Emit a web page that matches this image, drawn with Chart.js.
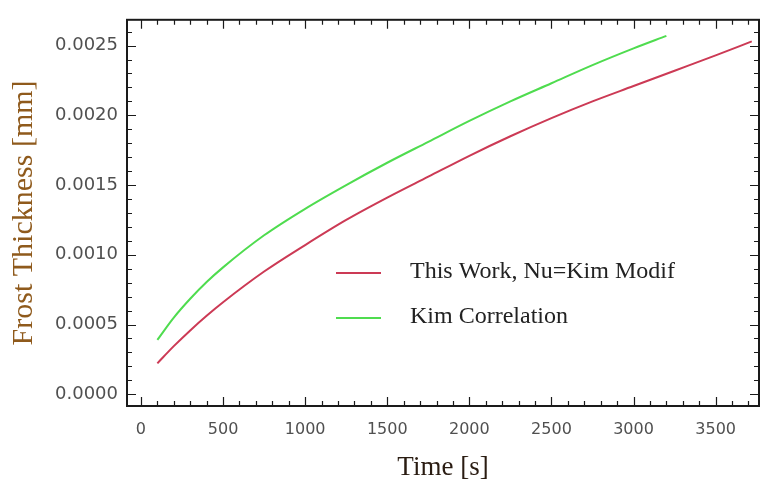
<!DOCTYPE html>
<html>
<head>
<meta charset="utf-8">
<script src="https://cdn.jsdelivr.net/npm/chart.js@4.4.0/dist/chart.umd.min.js"></script>
<style>
    html, body { margin: 0; padding: 0; background: #fff; }
    #wrap { width: 761px; height: 492px; }
</style>
</head>
<body>
<div id="wrap"><canvas id="chart" width="761" height="492"></canvas></div>
<script>
'use strict';
// This Work, Nu=Kim Modif
const timeRed = [100, 200, 300, 400, 500, 750, 1000, 1250, 1500, 1750, 2000, 2250, 2500, 2750, 3000, 3250, 3500, 3720];
const thickRed = [0.000222, 0.000345, 0.000458, 0.000563, 0.00066, 0.00088, 0.00107, 0.00125, 0.00141, 0.00156, 0.00171, 0.00185, 0.00198, 0.0021, 0.00221, 0.00232, 0.00243, 0.00253];
// Kim Correlation
const timeGreen = [100, 200, 300, 400, 500, 750, 1000, 1250, 1500, 1750, 2000, 2250, 2500, 2750, 3000, 3200];
const thickGreen = [0.00039, 0.00055, 0.000685, 0.000805, 0.00091, 0.00114, 0.00133, 0.0015, 0.00166, 0.00181, 0.00196, 0.0021, 0.00223, 0.00236, 0.00248, 0.00257];

const labelRed = 'This Work, Nu=Kim Modif';
const labelGreen = 'Kim Correlation';

const xTickValues = [0, 500, 1000, 1500, 2000, 2500, 3000, 3500];
const yTickValues = [0, 0.0005, 0.001, 0.0015, 0.002, 0.0025];

const colorRed = '#cc3a55';
const colorGreen = '#4fdc4f';

function toPoints(xs, ys) {
    let pts = [];
    for (let i = 0; i < xs.length; i++) {
        pts.push({ x: xs[i], y: ys[i] });
    }
    return pts;
}

// рамка и внутренние засечки как в Mathematica
const framePlugin = {
    id: 'frame',
    afterDatasetsDraw(chart) {
        const ctx = chart.ctx;
        const a = chart.chartArea;
        const xs = chart.scales.x;
        const ys = chart.scales.y;
        ctx.save();
        ctx.strokeStyle = '#1a1a1a';
        ctx.lineWidth = 1.2;
        for (let v = 0; v <= 3700; v += 100) {
            const px = Math.round(xs.getPixelForValue(v)) + 0.5;
            const len = (v % 500 === 0) ? 9 : 5;
            ctx.beginPath();
            ctx.moveTo(px, a.bottom);
            ctx.lineTo(px, a.bottom - len);
            ctx.moveTo(px, a.top);
            ctx.lineTo(px, a.top + len);
            ctx.stroke();
        }
        for (let k = 0; k <= 26; k++) {
            const py = Math.round(ys.getPixelForValue(k * 0.0001)) + 0.5;
            const len = (k % 5 === 0) ? 9 : 5;
            ctx.beginPath();
            ctx.moveTo(a.left, py);
            ctx.lineTo(a.left + len, py);
            ctx.moveTo(a.right, py);
            ctx.lineTo(a.right - len, py);
            ctx.stroke();
        }
        ctx.lineWidth = 2;
        ctx.strokeRect(a.left, a.top, a.right - a.left, a.bottom - a.top);

        // легенда внутри графика
        const rows = [273, 318];
        ctx.font = '24px "Liberation Serif"';
        ctx.textBaseline = 'middle';
        ctx.textAlign = 'left';
        chart.data.datasets.forEach((ds, i) => {
            ctx.strokeStyle = ds.borderColor;
            ctx.lineWidth = 2;
            ctx.beginPath();
            ctx.moveTo(336, rows[i]);
            ctx.lineTo(381, rows[i]);
            ctx.stroke();
            ctx.fillStyle = '#222';
            ctx.fillText(ds.label, 410, rows[i] - 1);
        });
        ctx.restore();
    }
};

Chart.defaults.font.family = '"DejaVu Sans"';

const chart = new Chart(document.getElementById('chart'), {
    type: 'line',
    data: {
        datasets: [{
            label: labelRed,
            data: toPoints(timeRed, thickRed),
            borderColor: colorRed,
            borderWidth: 2,
            pointRadius: 0,
            fill: false,
            cubicInterpolationMode: 'monotone'
        }, {
            label: labelGreen,
            data: toPoints(timeGreen, thickGreen),
            borderColor: colorGreen,
            borderWidth: 2,
            pointRadius: 0,
            fill: false,
            cubicInterpolationMode: 'monotone'
        }]
    },
    options: {
        responsive: false,
        animation: false,
        devicePixelRatio: 1,
        layout: { padding: { top: 11, right: 2, left: 0, bottom: 0 } },
        plugins: {
            legend: { display: false },
            tooltip: { enabled: false }
        },
        scales: {
            x: {
                type: 'linear',
                min: -85,
                max: 3764,
                grid: { display: false, drawTicks: false },
                border: { display: false },
                afterBuildTicks: (s) => { s.ticks = xTickValues.map(v => ({ value: v })); },
                afterFit: (s) => { s.height = 86; },
                ticks: {
                    color: '#505050',
                    font: { size: 16 },
                    padding: 14,
                    maxRotation: 0,
                    callback: (v) => String(v)
                },
                title: {
                    display: true,
                    text: 'Time [s]',
                    color: '#2a1c12',
                    font: { family: '"Liberation Serif"', size: 27 },
                    padding: { top: 0, bottom: 8 }
                }
            },
            y: {
                type: 'linear',
                min: -0.000084,
                max: 0.002685,
                grid: { display: false, drawTicks: false },
                border: { display: false },
                afterBuildTicks: (s) => { s.ticks = yTickValues.map(v => ({ value: v })); },
                afterFit: (s) => { s.width = 127; },
                ticks: {
                    color: '#505050',
                    font: { size: 18 },
                    padding: 9,
                    callback: (v) => v.toFixed(4)
                },
                title: {
                    display: true,
                    text: 'Frost Thickness [mm]',
                    color: '#8f5a1c',
                    font: { family: '"Liberation Serif"', size: 30 },
                    padding: { top: 6, bottom: 0 }
                }
            }
        }
    },
    plugins: [framePlugin]
});
</script>
</body>
</html>
